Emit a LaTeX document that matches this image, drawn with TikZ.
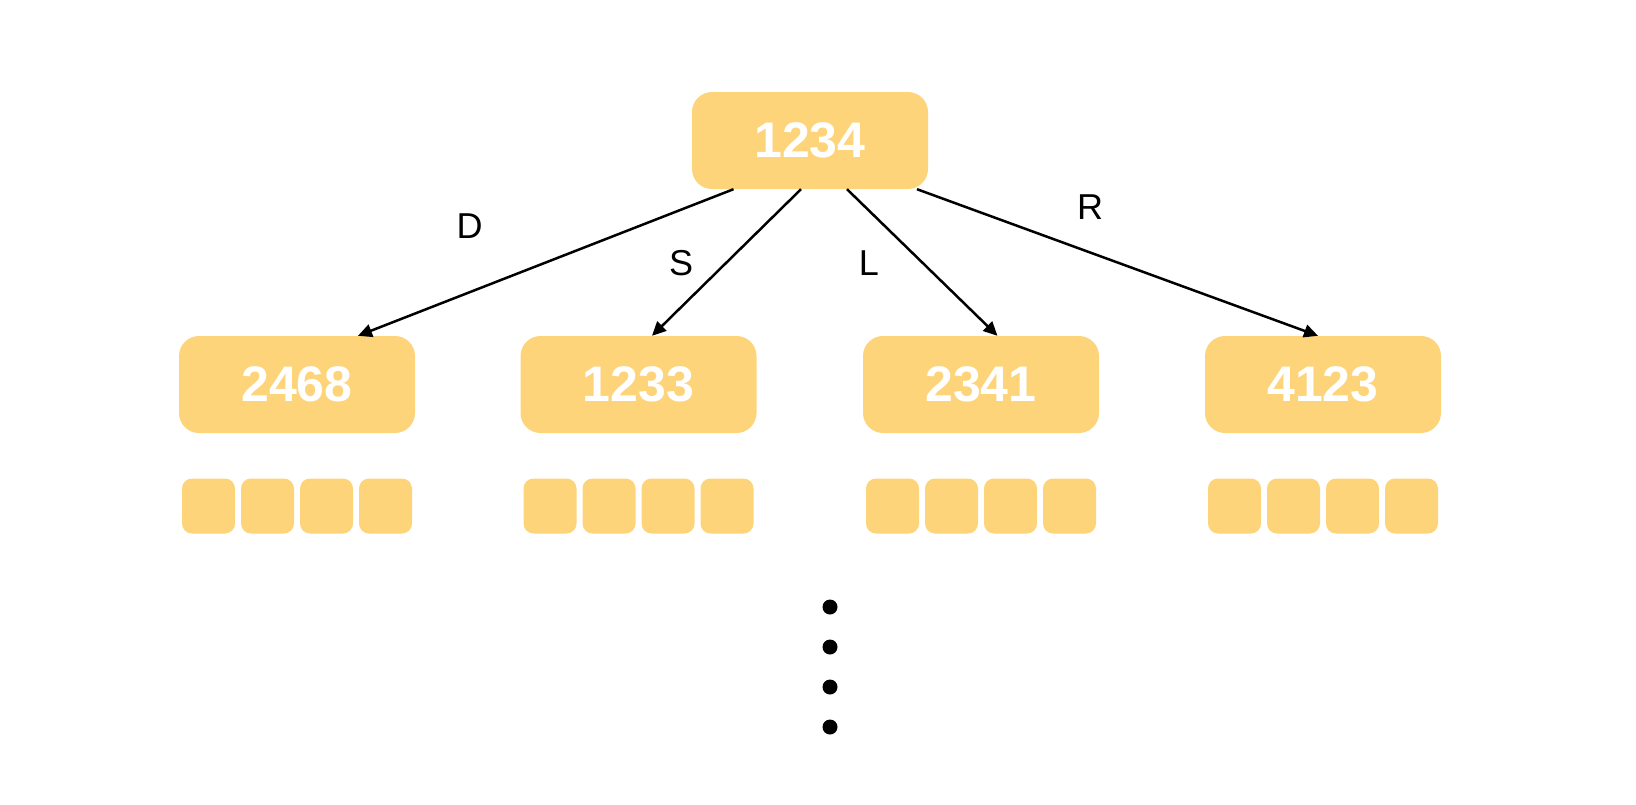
\documentclass[tikz,border=0pt]{standalone}
\usepackage{fontspec}
\setmainfont{Liberation Sans}
\usetikzlibrary{arrows.meta}
\definecolor{boxc}{RGB}{254,212,122}
\tikzset{
  bigbox/.style={fill=boxc, draw=none, rounded corners=20pt, minimum width=236pt, minimum height=97pt, inner sep=0pt, text=white, font=\fontsize{50}{50}\selectfont\bfseries},
  smallbox/.style={fill=boxc, draw=none, rounded corners=10pt, minimum width=53pt, minimum height=55pt, inner sep=0pt},
  edge/.style={line width=2.5pt, -{Triangle[length=14pt,width=13pt]}},
  elabel/.style={font=\fontsize{36}{36}\selectfont, text=black, inner sep=0pt},
  dotn/.style={circle, fill=black, minimum size=15pt, inner sep=0pt}
}
\begin{document}
\begin{tikzpicture}[x=1pt,y=-1pt]
\useasboundingbox (0,0) rectangle (1636,804);
\node[bigbox] (root) at (810,140.5) {1234};
\node[bigbox] (c1) at (297,384.5) {2468};
\node[bigbox] (c2) at (638.5,384.5) {1233};
\node[bigbox] (c3) at (981,384.5) {2341};
\node[bigbox] (c4) at (1323,384.5) {4123};
\foreach \c/\x in {1/297,2/638.5,3/981,4/1323}{
  \node[smallbox] (s\c a) at (\x-88.5,506) {};
  \node[smallbox] (s\c b) at (\x-29.5,506) {};
  \node[smallbox] (s\c c) at (\x+29.5,506) {};
  \node[smallbox] (s\c d) at (\x+88.5,506) {};
}
\draw[edge] ([xshift=-76.5pt]root.south) -- ([xshift=61pt]c1.north);
\draw[edge] ([xshift=-9pt]root.south) -- ([xshift=13.5pt]c2.north);
\draw[edge] ([xshift=37pt]root.south) -- ([xshift=16.5pt]c3.north);
\draw[edge] ([xshift=107pt]root.south) -- ([xshift=-5pt]c4.north);
\node[elabel] (lD) at (469.5,226) {D};
\node[elabel] (lS) at (681,263) {S};
\node[elabel] (lL) at (869,263) {L};
\node[elabel] (lR) at (1090,207) {R};
\node[dotn] (d1) at (830,607) {};
\node[dotn] (d2) at (830,647) {};
\node[dotn] (d3) at (830,687) {};
\node[dotn] (d4) at (830,727) {};
\end{tikzpicture}
\end{document}
